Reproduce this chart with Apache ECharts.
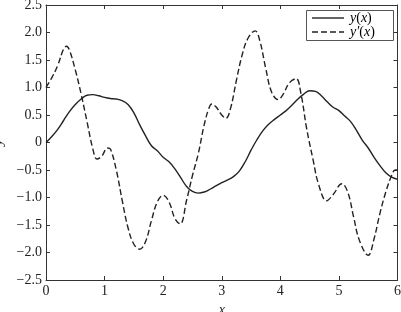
<!DOCTYPE html>
<html>
<head>
<meta charset="utf-8">
<script src="https://cdn.jsdelivr.net/npm/echarts@6/dist/echarts.min.js"></script>
<style>html,body{margin:0;padding:0;background:#fff}#c{width:401px;height:312px}</style>
</head>
<body>
<div id="c"></div>
<script>
// y(x)
const yX = [0,0.1,0.2,0.3,0.4,0.5,0.6,0.7,0.8,0.9,1.0,1.1,1.2,1.3,1.4,1.5,1.6,1.7,1.8,1.9,2.0,2.1,2.2,2.3,2.4,2.5,2.6,2.7,2.8,2.9,3.0,3.1,3.2,3.3,3.4,3.5,3.6,3.7,3.8,3.9,4.0,4.1,4.2,4.3,4.4,4.5,4.6,4.7,4.8,4.9,5.0,5.1,5.2,5.3,5.4,5.5,5.6,5.7,5.8,5.9,6.0];
const yVal = [0,0.11,0.24,0.40,0.56,0.69,0.79,0.86,0.87,0.85,0.82,0.80,0.79,0.76,0.69,0.54,0.32,0.12,-0.06,-0.15,-0.27,-0.35,-0.48,-0.64,-0.80,-0.89,-0.92,-0.90,-0.85,-0.79,-0.73,-0.68,-0.62,-0.52,-0.35,-0.14,0.05,0.21,0.33,0.42,0.50,0.58,0.68,0.79,0.88,0.94,0.93,0.85,0.74,0.64,0.58,0.48,0.38,0.22,0.04,-0.10,-0.27,-0.42,-0.55,-0.63,-0.67];
// y'(x)
const dX = [0,0.1,0.2,0.3,0.35,0.4,0.5,0.6,0.7,0.8,0.87,0.95,1.05,1.1,1.2,1.3,1.4,1.5,1.6,1.7,1.8,1.9,2.0,2.1,2.2,2.29,2.4,2.5,2.6,2.7,2.78,2.83,2.9,3.0,3.07,3.15,3.25,3.35,3.45,3.57,3.65,3.75,3.85,3.96,4.05,4.15,4.27,4.35,4.45,4.56,4.65,4.79,4.9,5.05,5.15,5.25,5.35,5.5,5.6,5.7,5.8,5.9,5.96,6.0];
const dVal = [1.00,1.18,1.40,1.70,1.75,1.68,1.32,0.88,0.38,-0.12,-0.30,-0.25,-0.10,-0.12,-0.50,-1.05,-1.55,-1.85,-1.94,-1.80,-1.42,-1.08,-0.96,-1.08,-1.38,-1.48,-1.05,-0.60,-0.20,0.32,0.62,0.70,0.65,0.50,0.44,0.62,1.13,1.60,1.90,2.03,1.85,1.35,0.92,0.78,0.88,1.08,1.16,0.90,0.25,-0.32,-0.75,-1.06,-0.95,-0.75,-0.90,-1.35,-1.78,-2.05,-1.75,-1.29,-0.90,-0.60,-0.50,-0.50];
const seriesNames = ['y(x)', 'y\u2032(x)'];

const font = 'Liberation Serif';
const ink = '#222';
function fmtY(v){ if (Math.abs(v) < 1e-9) return '0'; return v.toFixed(1).replace('-', '\u2212'); }
const axisCommon = {
  axisLine: {show: true, onZero: false, lineStyle: {color: '#333', width: 1}},
  axisTick: {show: true, inside: true, length: 4, lineStyle: {color: '#333'}},
  splitLine: {show: false},
};
const rich = {
  i: {fontFamily: font, fontStyle: 'italic', fontSize: 14, color: ink},
  n: {fontFamily: font, fontSize: 14, color: ink}
};
function legendText(name){
  const m = name.match(/^(.+)\((.+)\)$/);
  return '{i|' + m[1] + '}{n|(}{i|' + m[2] + '}{n|)}';
}
const lgX = 306, lgY = 10, lgW = 87, lgH = 30;
const chart = echarts.init(document.getElementById('c'), null, {renderer: 'canvas'});
chart.setOption({
  animation: false,
  backgroundColor: '#fff',
  grid: {left: 46, right: 3.5, top: 5, bottom: 32, containLabel: false, outerBoundsMode: 'none'},
  xAxis: [
    Object.assign({type: 'value', min: 0, max: 6, interval: 1, position: 'bottom',
      name: 'x', nameLocation: 'middle', nameGap: 16,
      nameTextStyle: {fontFamily: font, fontStyle: 'italic', fontSize: 14, color: ink},
      axisLabel: {fontFamily: font, fontSize: 14, color: ink, margin: 4}}, axisCommon),
    Object.assign({type: 'value', min: 0, max: 6, interval: 1, position: 'top',
      axisLabel: {show: false}}, axisCommon)
  ],
  yAxis: [
    Object.assign({type: 'value', min: -2.5, max: 2.5, interval: 0.5, position: 'left',
      name: 'y', nameLocation: 'middle', nameGap: 33, nameRotate: 90,
      nameTextStyle: {fontFamily: font, fontStyle: 'italic', fontSize: 14, color: ink},
      axisLabel: {fontFamily: font, fontSize: 14, color: ink, margin: 4, formatter: fmtY}}, axisCommon),
    Object.assign({type: 'value', min: -2.5, max: 2.5, interval: 0.5, position: 'right',
      axisLabel: {show: false}}, axisCommon)
  ],
  legend: {show: false},
  graphic: [
    {type: 'rect', shape: {x: lgX + 0.5, y: lgY + 0.5, width: lgW, height: lgH},
     style: {fill: '#fff', stroke: '#555', lineWidth: 1}, z: 100},
    {type: 'line', shape: {x1: lgX + 6, y1: lgY + 8, x2: lgX + 38, y2: lgY + 8},
     style: {stroke: ink, lineWidth: 1.4}, z: 101},
    {type: 'line', shape: {x1: lgX + 6, y1: lgY + 22, x2: lgX + 38, y2: lgY + 22},
     style: {stroke: ink, lineWidth: 1.4, lineDash: [6, 3]}, z: 101},
    {type: 'text', x: lgX + 44, y: lgY + 8, z: 101,
     style: {text: legendText(seriesNames[0]), rich: rich, verticalAlign: 'middle'}},
    {type: 'text', x: lgX + 44, y: lgY + 22, z: 101,
     style: {text: legendText(seriesNames[1]), rich: rich, verticalAlign: 'middle'}}
  ],
  series: [
    {name: seriesNames[0], type: 'line', smooth: 0.4, symbol: 'none', showSymbol: false,
     lineStyle: {color: ink, width: 1.4, type: 'solid'}, itemStyle: {color: ink},
     data: yX.map((x, i) => [x, yVal[i]])},
    {name: seriesNames[1], type: 'line', smooth: 0.4, symbol: 'none', showSymbol: false,
     lineStyle: {color: ink, width: 1.4, type: [6, 3]}, itemStyle: {color: ink},
     data: dX.map((x, i) => [x, dVal[i]])}
  ]
});
</script>
</body>
</html>
